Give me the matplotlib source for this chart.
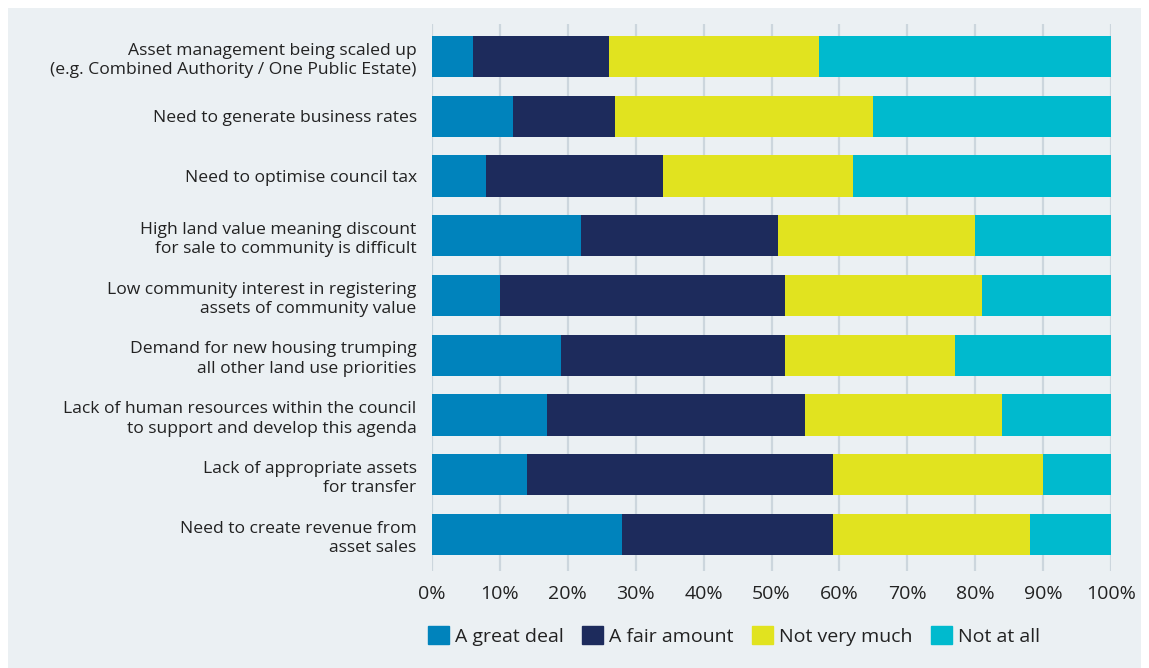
import matplotlib.pyplot as plt
import matplotlib.patches as mpatches
import numpy as np

plt.rcParams['font.family'] = ['Open Sans', 'DejaVu Sans']

# survey responses, % of councils
categories = [
    "Asset management being scaled up\n(e.g. Combined Authority / One Public Estate)",
    "Need to generate business rates",
    "Need to optimise council tax",
    "High land value meaning discount\nfor sale to community is difficult",
    "Low community interest in registering\nassets of community value",
    "Demand for new housing trumping\nall other land use priorities",
    "Lack of human resources within the council\nto support and develop this agenda",
    "Lack of appropriate assets\nfor transfer",
    "Need to create revenue from\nasset sales",
]
great_deal = [6, 12, 8, 22, 10, 19, 17, 14, 28]
fair_amount = [20, 15, 26, 29, 42, 33, 38, 45, 31]
not_very_much = [31, 38, 28, 29, 29, 25, 29, 31, 29]
not_at_all = [43, 35, 38, 20, 19, 23, 16, 10, 12]

series = [
    ("A great deal", great_deal, "#0083BC"),
    ("A fair amount", fair_amount, "#1D2B5C"),
    ("Not very much", not_very_much, "#E1E31F"),
    ("Not at all", not_at_all, "#00BACE"),
]

bg = "#EBF0F3"
txt = "#222222"
fig = plt.figure(figsize=(11.49, 6.68), dpi=100)
fig.patch.set_facecolor("white")
fig.patches.append(mpatches.Rectangle((8 / 1149, 0), 1 - 16 / 1149, 1 - 8 / 668,
                                      transform=fig.transFigure, facecolor=bg,
                                      edgecolor="none", zorder=-10))

ax = fig.add_axes([432 / 1149, 1 - 571 / 668, (1111 - 432) / 1149, (571 - 24) / 668])
ax.patch.set_alpha(0)

y = np.arange(len(categories))
left = np.zeros(len(categories))
for name, vals, col in series:
    ax.barh(y, vals, left=left, height=0.69, color=col, label=name, zorder=3)
    left += np.array(vals)

ax.set_xlim(0, 100)
ax.set_ylim(8.61, -0.545)
ax.set_xticks(np.arange(0, 101, 10))
ax.set_xticklabels([f"{v}%" for v in range(0, 101, 10)], fontsize=14, color=txt)
ax.set_yticks(y)
ax.set_yticklabels(categories, fontsize=12.6, color=txt, linespacing=1.3)
ax.tick_params(axis="both", length=0)
ax.tick_params(axis="y", pad=11)
ax.tick_params(axis="x", pad=10)
ax.grid(axis="x", color="#CCD6DD", linewidth=1.6, zorder=0)
for s in ax.spines.values():
    s.set_visible(False)

handles = [mpatches.Patch(color=col) for _, _, col in series]
fig.legend(handles, [s[0] for s in series], loc="center left",
           bbox_to_anchor=(428 / 1149, 1 - 636 / 668), ncol=4, frameon=False,
           fontsize=14, handlelength=1.08, handleheight=1.03, handletextpad=0.3,
           columnspacing=0.95, labelcolor=txt, borderpad=0, borderaxespad=0)

fig.savefig("out.png", dpi=100, facecolor=fig.get_facecolor())
